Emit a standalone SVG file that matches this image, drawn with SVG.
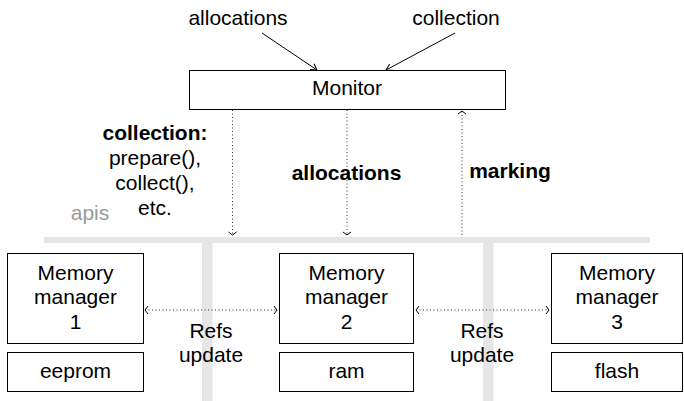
<svg xmlns="http://www.w3.org/2000/svg" width="684" height="401" viewBox="0 0 684 401">
<defs>
<style>
text{font-family:"Liberation Sans",Arial,sans-serif;font-size:21px;fill:#000;text-anchor:middle}
.b{font-weight:bold}
.box{fill:#fff;stroke:#000;stroke-width:1}
.bar{fill:#e6e6e6}
.dot{fill:none;stroke:#333;stroke-width:1;stroke-dasharray:1 2.5}
.sol{fill:none;stroke:#000;stroke-width:1}
</style>
<marker id="ah" markerUnits="userSpaceOnUse" markerWidth="12" markerHeight="12" viewBox="-6 -6 12 12" refX="0" refY="0" orient="auto-start-reverse">
<path d="M-3,-4 L0,0 L-3,4" fill="none" stroke="#000" stroke-width="1"/>
</marker>
<marker id="as" markerUnits="userSpaceOnUse" markerWidth="14" markerHeight="14" viewBox="-7 -7 14 14" refX="0" refY="0" orient="auto">
<path d="M-6,-3.5 L0,0 L-6,3.5" fill="none" stroke="#000" stroke-width="1"/>
</marker>
</defs>
<rect width="684" height="401" fill="#fff"/>
<g id="apis-bus">
<rect class="bar" x="44" y="237" width="606" height="6"/>
<rect class="bar" x="202" y="237" width="10.5" height="164"/>
<rect class="bar" x="483" y="237" width="10.5" height="164"/>
<text x="90" y="220" style="fill:#999">apis</text>
</g>
<g id="connectors">
<line class="sol" x1="262" y1="33" x2="317" y2="70" marker-end="url(#as)"/>
<line class="sol" x1="455" y1="33" x2="386" y2="70" marker-end="url(#as)"/>
<line class="dot" x1="232.5" y1="110" x2="232.5" y2="235" marker-end="url(#ah)"/>
<line class="dot" x1="347" y1="110" x2="347" y2="235" marker-end="url(#ah)"/>
<line class="dot" x1="462" y1="235" x2="462" y2="111" marker-end="url(#ah)"/>
<line class="dot" x1="145" y1="310" x2="277" y2="310" marker-start="url(#ah)" marker-end="url(#ah)"/>
<line class="dot" x1="416" y1="310" x2="549" y2="310" marker-start="url(#ah)" marker-end="url(#ah)"/>
</g>
<g id="labels">
<text x="238" y="25">allocations</text>
<text x="456" y="25">collection</text>
<text x="155" y="140" class="b">collection:</text>
<text x="155" y="165">prepare(),</text>
<text x="155" y="190">collect(),</text>
<text x="155" y="215">etc.</text>
<text x="346.5" y="180" class="b">allocations</text>
<text x="510" y="178" class="b">marking</text>
<text x="211" y="338">Refs</text>
<text x="211" y="362">update</text>
<text x="482" y="338">Refs</text>
<text x="482" y="362">update</text>
</g>
<g id="monitor">
<rect class="box" x="189.5" y="70.5" width="316" height="39"/>
<text x="347" y="95">Monitor</text>
</g>
<g id="mm1">
<rect class="box" x="7.5" y="253.5" width="136" height="90"/>
<text x="75.5" y="280">Memory</text>
<text x="75.5" y="304">manager</text>
<text x="75.5" y="329">1</text>
</g>
<g id="eeprom">
<rect class="box" x="7.5" y="352.5" width="136" height="39"/>
<text x="75.5" y="378">eeprom</text>
</g>
<g id="mm2">
<rect class="box" x="279.5" y="253.5" width="134" height="90"/>
<text x="346.5" y="280">Memory</text>
<text x="346.5" y="304">manager</text>
<text x="346.5" y="329">2</text>
</g>
<g id="ram">
<rect class="box" x="279.5" y="352.5" width="134" height="39"/>
<text x="346.5" y="378">ram</text>
</g>
<g id="mm3">
<rect class="box" x="551.5" y="253.5" width="131" height="90"/>
<text x="617" y="280">Memory</text>
<text x="617" y="304">manager</text>
<text x="617" y="329">3</text>
</g>
<g id="flash">
<rect class="box" x="551.5" y="352.5" width="131" height="39"/>
<text x="617" y="378">flash</text>
</g>
</svg>
